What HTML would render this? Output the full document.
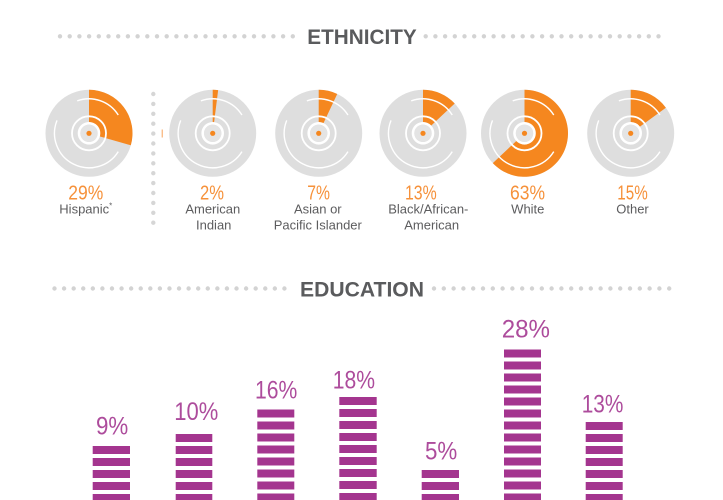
<!DOCTYPE html>
<html>
<head>
<meta charset="utf-8">
<style>
  html, body { margin: 0; padding: 0; background: #ffffff; }
  body { width: 723px; height: 500px; overflow: hidden; }
  svg { display: block; }
  .hdr { font-family: "Liberation Sans", sans-serif; font-weight: bold; font-size: 21px; fill: #5a5b5d; }
  .pct { font-family: "Liberation Sans", sans-serif; font-size: 20px; fill: #f6913a; }
  .lbl { font-family: "Liberation Sans", sans-serif; font-size: 13px; fill: #5c5c5e; }
  .bpct { font-family: "Liberation Sans", sans-serif; font-size: 25px; fill: #ad4c9c; }
</style>
</head>
<body>
<svg width="723" height="500" viewBox="0 0 723 500" xmlns="http://www.w3.org/2000/svg">
  <defs>
    <g id="rings">
      <path d="M -11.8 -32.42 A 34.5 34.5 0 0 1 29.26 -18.28" fill="none" stroke="#ffffff" stroke-width="1.4"/>
      <path d="M 29.26 18.28 A 34.5 34.5 0 0 1 -31.99 -12.92" fill="none" stroke="#ffffff" stroke-width="1.4"/>
      <circle cx="0" cy="0" r="17" fill="none" stroke="#ffffff" stroke-width="1.8"/>
      <circle cx="0" cy="0" r="10" fill="none" stroke="#ffffff" stroke-width="2.6"/>
      <circle cx="0" cy="0" r="8.6" fill="#e4e4e4"/>
      <circle cx="0" cy="0" r="2.6" fill="#f5871f"/>
    </g>
    <pattern id="p1" patternUnits="userSpaceOnUse" x="0" y="446" width="10" height="12"><rect width="10" height="8" fill="#a4358f"/></pattern>
    <pattern id="p2" patternUnits="userSpaceOnUse" x="0" y="434" width="10" height="12"><rect width="10" height="8" fill="#a4358f"/></pattern>
    <pattern id="p3" patternUnits="userSpaceOnUse" x="0" y="409.5" width="10" height="12"><rect width="10" height="8" fill="#a4358f"/></pattern>
    <pattern id="p4" patternUnits="userSpaceOnUse" x="0" y="397" width="10" height="12"><rect width="10" height="8" fill="#a4358f"/></pattern>
    <pattern id="p5" patternUnits="userSpaceOnUse" x="0" y="470" width="10" height="12"><rect width="10" height="8" fill="#a4358f"/></pattern>
    <pattern id="p6" patternUnits="userSpaceOnUse" x="0" y="349.5" width="10" height="12"><rect width="10" height="8" fill="#a4358f"/></pattern>
    <pattern id="p7" patternUnits="userSpaceOnUse" x="0" y="422" width="10" height="12"><rect width="10" height="8" fill="#a4358f"/></pattern>
  </defs>

  <!-- ETHNICITY header -->
  <line x1="60" y1="36.3" x2="293" y2="36.3" stroke="#d3d3d3" stroke-width="4.4" stroke-linecap="round" stroke-dasharray="0 9.7"/>
  <line x1="425.7" y1="36.3" x2="659" y2="36.3" stroke="#d3d3d3" stroke-width="4.4" stroke-linecap="round" stroke-dasharray="0 9.7"/>
  <text class="hdr" x="307.3" y="44" textLength="109.4" lengthAdjust="spacingAndGlyphs">ETHNICITY</text>

  <!-- vertical dotted separator -->
  <line x1="153.3" y1="94" x2="153.3" y2="223" stroke="#d6d6d6" stroke-width="4.4" stroke-linecap="round" stroke-dasharray="0 9.9"/>
  <line x1="162.2" y1="129.5" x2="162.2" y2="137.5" stroke="#f7a35a" stroke-width="1"/>

  <!-- Disc 1 Hispanic 29% -->
  <circle cx="89" cy="133.3" r="43.5" fill="#dedede"/>
  <path d="M89,89.8 A43.5,43.5 0 0 1 130.82,145.29 L99.57,136.33 A11,11 0 0 0 89,122.3 Z" fill="#f5871f"/>
  <use href="#rings" transform="translate(89,133.3)"/>

  <!-- Disc 2 American Indian 2% -->
  <circle cx="212.7" cy="133.3" r="43.5" fill="#dedede"/>
  <path d="M212.7,89.8 A43.5,43.5 0 0 1 218.15,90.14 L214.08,122.39 A11,11 0 0 0 212.7,122.3 Z" fill="#f5871f"/>
  <use href="#rings" transform="translate(212.7,133.3)"/>

  <!-- Disc 3 Asian 7% -->
  <circle cx="318.7" cy="133.3" r="43.5" fill="#dedede"/>
  <path d="M318.7,89.8 A43.5,43.5 0 0 1 337.22,93.94 L323.38,123.35 A11,11 0 0 0 318.7,122.3 Z" fill="#f5871f"/>
  <use href="#rings" transform="translate(318.7,133.3)"/>

  <!-- Disc 4 Black 13% -->
  <circle cx="423" cy="133.3" r="43.5" fill="#dedede"/>
  <path d="M423,89.8 A43.5,43.5 0 0 1 454.71,103.52 L431.02,125.77 A11,11 0 0 0 423,122.3 Z" fill="#f5871f"/>
  <use href="#rings" transform="translate(423,133.3)"/>

  <!-- Disc 5 White 63% -->
  <circle cx="524.5" cy="133.3" r="43.5" fill="#dedede"/>
  <path d="M524.5,89.8 A43.5,43.5 0 1 1 492.79,163.08 L516.48,140.83 A11,11 0 1 0 524.5,122.3 Z" fill="#f5871f"/>
  <use href="#rings" transform="translate(524.5,133.3)"/>

  <!-- Disc 6 Other 15% -->
  <circle cx="630.7" cy="133.3" r="43.5" fill="#dedede"/>
  <path d="M630.7,89.8 A43.5,43.5 0 0 1 665.89,107.73 L639.6,126.83 A11,11 0 0 0 630.7,122.3 Z" fill="#f5871f"/>
  <use href="#rings" transform="translate(630.7,133.3)"/>

  <!-- Ethnicity percents -->
  <text class="pct" x="68.3" y="199.3" textLength="35" lengthAdjust="spacingAndGlyphs">29%</text>
  <text class="pct" x="200" y="199.3" textLength="24" lengthAdjust="spacingAndGlyphs">2%</text>
  <text class="pct" x="307.3" y="199.3" textLength="22.7" lengthAdjust="spacingAndGlyphs">7%</text>
  <text class="pct" x="405" y="199.3" textLength="31.7" lengthAdjust="spacingAndGlyphs">13%</text>
  <text class="pct" x="510" y="199.3" textLength="35" lengthAdjust="spacingAndGlyphs">63%</text>
  <text class="pct" x="617.3" y="199.3" textLength="30.4" lengthAdjust="spacingAndGlyphs">15%</text>

  <!-- Ethnicity labels -->
  <text class="lbl" x="59.3" y="213.3">Hispanic<tspan font-size="8" dy="-5">*</tspan></text>
  <text class="lbl" x="212.8" y="213.3" text-anchor="middle">American</text>
  <text class="lbl" x="213.7" y="229.5" text-anchor="middle">Indian</text>
  <text class="lbl" x="317.8" y="213.3" text-anchor="middle">Asian or</text>
  <text class="lbl" x="317.8" y="229.5" text-anchor="middle">Pacific Islander</text>
  <text class="lbl" x="428.3" y="213.3" text-anchor="middle">Black/African-</text>
  <text class="lbl" x="431.7" y="229.5" text-anchor="middle">American</text>
  <text class="lbl" x="527.8" y="213.3" text-anchor="middle">White</text>
  <text class="lbl" x="632.5" y="213.3" text-anchor="middle">Other</text>

  <!-- EDUCATION header -->
  <line x1="54.5" y1="288.5" x2="294" y2="288.5" stroke="#d3d3d3" stroke-width="4.4" stroke-linecap="round" stroke-dasharray="0 9.58"/>
  <line x1="434" y1="288.5" x2="670" y2="288.5" stroke="#d3d3d3" stroke-width="4.4" stroke-linecap="round" stroke-dasharray="0 9.8"/>
  <text class="hdr" x="300" y="296.7" textLength="124" lengthAdjust="spacingAndGlyphs">EDUCATION</text>

  <!-- Bars -->
  <rect x="92.7" y="446" width="37.3" height="54" fill="url(#p1)"/>
  <rect x="175.7" y="434" width="36.6" height="66" fill="url(#p2)"/>
  <rect x="257.3" y="409.5" width="37" height="91" fill="url(#p3)"/>
  <rect x="339.3" y="397" width="37.4" height="103" fill="url(#p4)"/>
  <rect x="421.7" y="470" width="37.3" height="30" fill="url(#p5)"/>
  <rect x="504" y="349.5" width="37" height="151" fill="url(#p6)"/>
  <rect x="585.7" y="422" width="37" height="78" fill="url(#p7)"/>

  <!-- Bar labels -->
  <text class="bpct" x="96" y="434.3" textLength="32.3" lengthAdjust="spacingAndGlyphs">9%</text>
  <text class="bpct" x="174.3" y="420" textLength="44" lengthAdjust="spacingAndGlyphs">10%</text>
  <text class="bpct" x="255" y="398.7" textLength="42.3" lengthAdjust="spacingAndGlyphs">16%</text>
  <text class="bpct" x="332.7" y="388.3" textLength="42.3" lengthAdjust="spacingAndGlyphs">18%</text>
  <text class="bpct" x="425" y="459.3" textLength="32.3" lengthAdjust="spacingAndGlyphs">5%</text>
  <text class="bpct" x="501.7" y="337.3" textLength="48.3" lengthAdjust="spacingAndGlyphs">28%</text>
  <text class="bpct" x="581.7" y="412.3" textLength="41.7" lengthAdjust="spacingAndGlyphs">13%</text>
</svg>
</body>
</html>
